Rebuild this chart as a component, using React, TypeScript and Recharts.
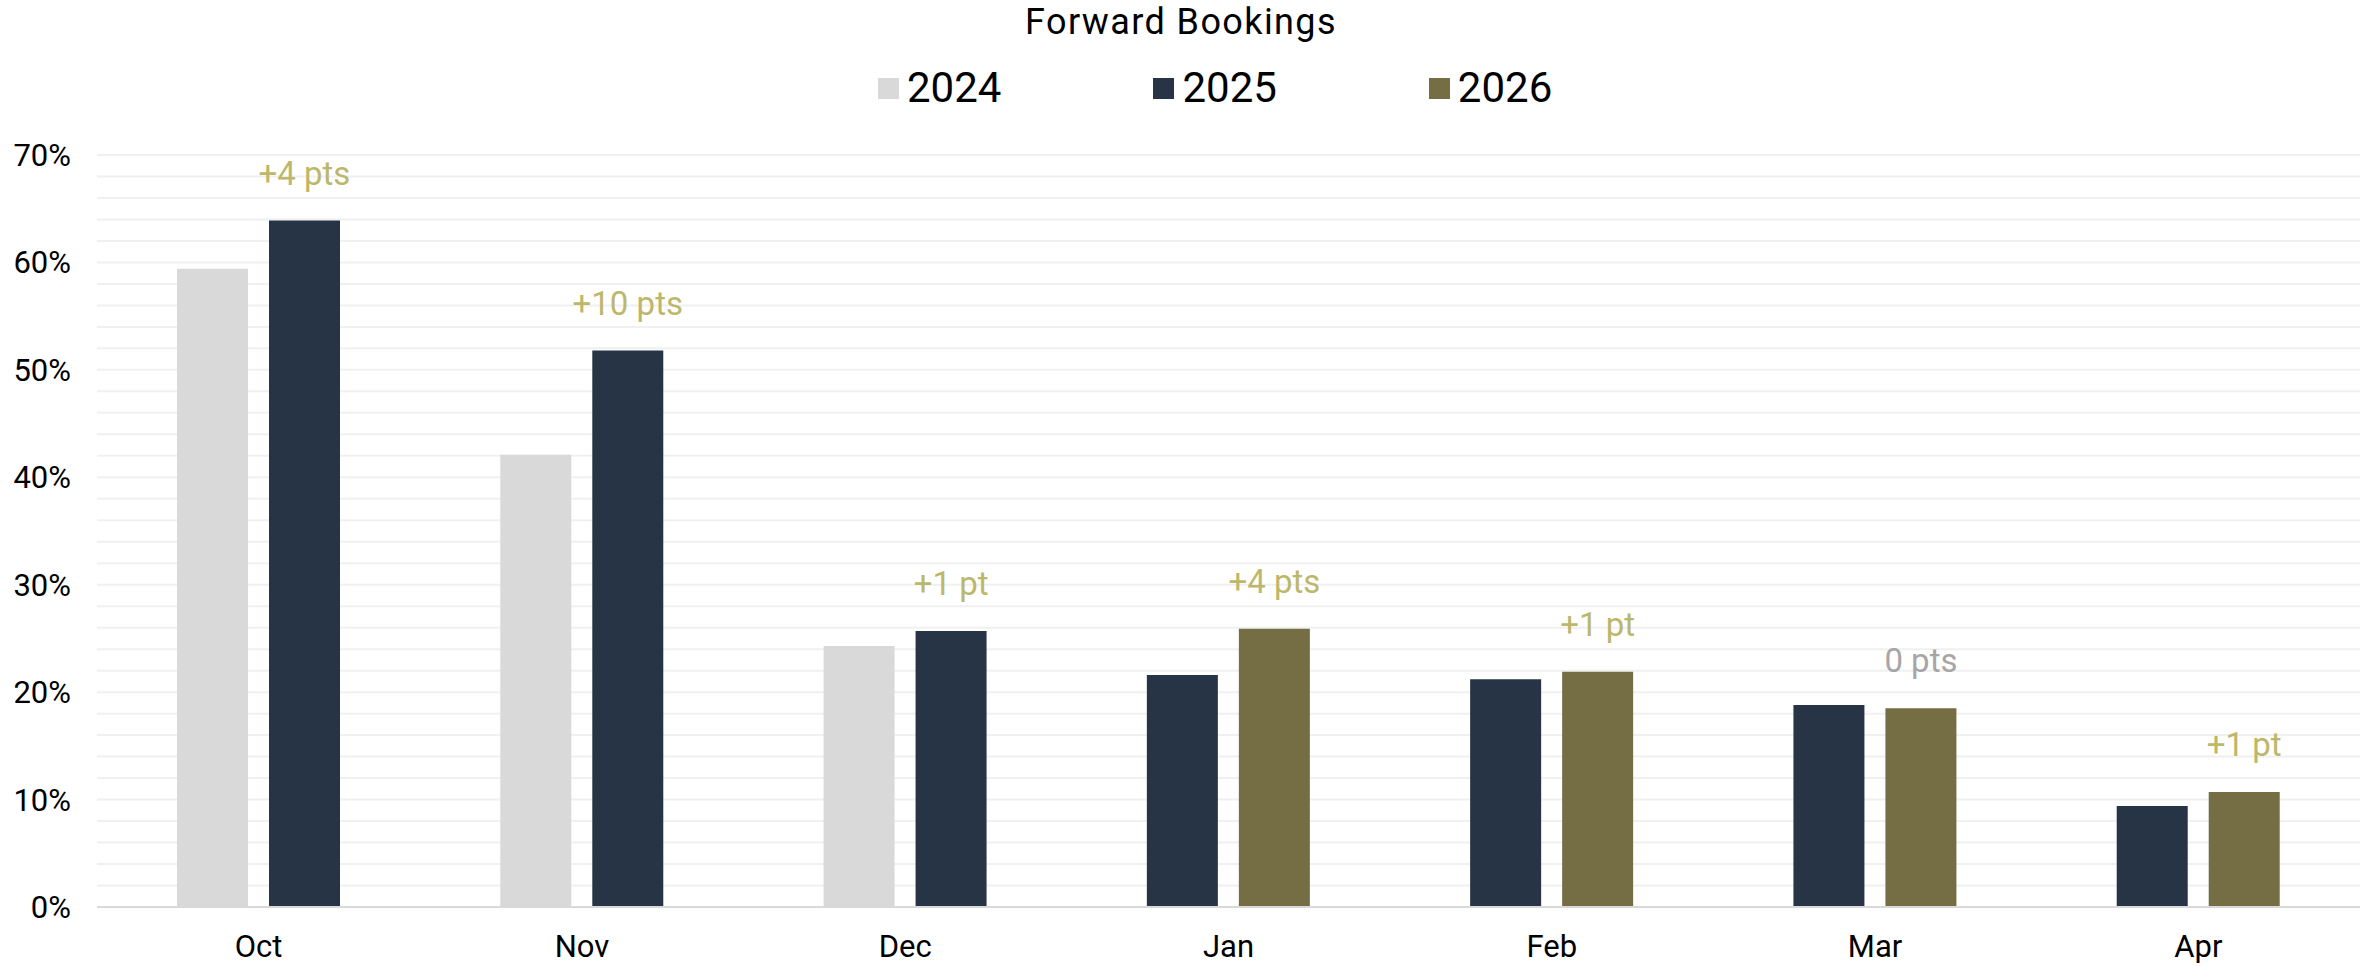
import React from 'react'
import { BarChart, Bar, XAxis, YAxis, CartesianGrid, Cell, LabelList } from 'recharts'

const months = ['Oct', 'Nov', 'Dec', 'Jan', 'Feb', 'Mar', 'Apr']
const priorYear = ['2024', '2024', '2024', '2025', '2025', '2025', '2025']
const currentYear = ['2025', '2025', '2025', '2026', '2026', '2026', '2026']
const priorValues = [59.4, 42.1, 24.3, 21.6, 21.2, 18.8, 9.4]
const currentValues = [63.9, 51.8, 25.7, 25.9, 21.9, 18.5, 10.7]
const changeLabels = ['+4 pts', '+10 pts', '+1 pt', '+4 pts', '+1 pt', '0 pts', '+1 pt']

const legendYears = ['2024', '2025', '2026']
const yTicks = [0, 10, 20, 30, 40, 50, 60, 70]
const gridValues = [0, 2, 4, 6, 8, 10, 12, 14, 16, 18, 20, 22, 24, 26, 28, 30, 32, 34, 36, 38, 40, 42, 44, 46, 48, 50, 52, 54, 56, 58, 60, 62, 64, 66, 68, 70]

const yearColors: Record<string, string> = {
  '2024': '#d9d9d9',
  '2025': '#273445',
  '2026': '#756d44',
}

const FONT = 'Roboto, "Liberation Sans", sans-serif'

const data = months.map((m, i) => ({
  month: m,
  prior: priorValues[i],
  current: currentValues[i],
  label: changeLabels[i],
}))

function ChangeLabel(props: any) {
  const { x, y, width, value } = props
  const flat = value === '0 pts'
  return (
    <text
      x={Number(x) + Number(width) / 2}
      y={Number(y) - 36}
      textAnchor="middle"
      fontFamily={FONT}
      fontSize={33}
      fill={flat ? '#a6a6a6' : '#bdb76b'}
    >
      {value}
    </text>
  )
}

export default function App() {
  return (
    <div style={{ position: 'absolute', left: 0, top: 0, width: 2362, height: 966, background: '#fff' }}>
      <div
        style={{
          position: 'absolute',
          top: 3,
          left: 0,
          width: 2362,
          textAlign: 'center',
          fontFamily: FONT,
          fontSize: 36,
          lineHeight: '38px',
          letterSpacing: 1.4,
          color: '#000',
        }}
      >
        Forward Bookings
      </div>
      <div
        style={{
          position: 'absolute',
          top: 64,
          left: 878,
          display: 'flex',
          gap: 152,
          fontFamily: FONT,
          fontSize: 42,
          lineHeight: '48px',
          color: '#000',
        }}
      >
        {legendYears.map((yr) => (
          <div key={yr} style={{ display: 'flex', alignItems: 'center', gap: 8 }}>
            <span style={{ display: 'inline-block', width: 21, height: 21, background: yearColors[yr] }} />
            <span>{yr}</span>
          </div>
        ))}
      </div>
      <div style={{ position: 'absolute', left: 0, top: 0 }}>
        <BarChart
          width={2362}
          height={966}
          data={data}
          margin={{ top: 155, right: 2, left: 0, bottom: 0 }}
          barSize={71}
          barGap={21}
        >
          <CartesianGrid vertical={false} horizontalValues={gridValues} stroke="#f0f0f0" strokeWidth={2} />
          <XAxis
            dataKey="month"
            height={59}
            tickLine={false}
            tickSize={0}
            tickMargin={28}
            axisLine={{ stroke: '#d9d9d9', strokeWidth: 2 }}
            tick={{ fontFamily: FONT, fontSize: 31, fill: '#000' }}
          />
          <YAxis
            width={97}
            domain={[0, 70]}
            ticks={yTicks}
            interval={0}
            axisLine={false}
            tickLine={false}
            tickSize={0}
            tickMargin={26}
            tickFormatter={(v) => `${v}%`}
            tick={{ fontFamily: FONT, fontSize: 31, fill: '#000' }}
          />
          <Bar dataKey="prior" isAnimationActive={false}>
            {data.map((d, i) => (
              <Cell key={d.month} fill={yearColors[priorYear[i]]} />
            ))}
          </Bar>
          <Bar dataKey="current" isAnimationActive={false}>
            {data.map((d, i) => (
              <Cell key={d.month} fill={yearColors[currentYear[i]]} />
            ))}
            <LabelList dataKey="label" content={ChangeLabel} />
          </Bar>
        </BarChart>
      </div>
    </div>
  )
}
